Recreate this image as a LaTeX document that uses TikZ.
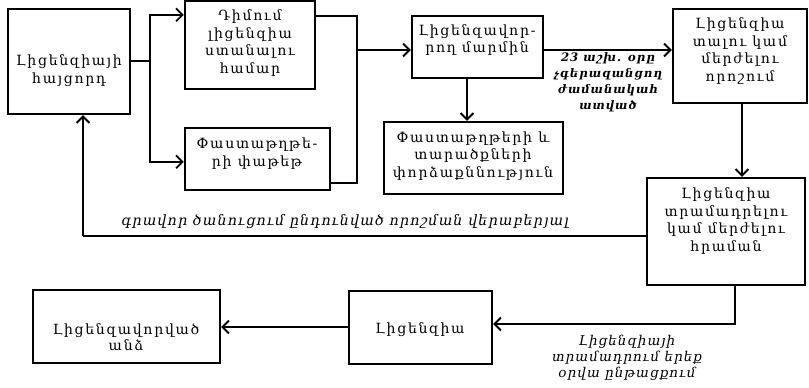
\documentclass[tikz,border=0pt]{standalone}
\usepackage{fontspec}
\setmainfont{DejaVu Serif}
\newfontfamily\boxfont{DejaVu Serif}[LetterSpace=12]
\newfontfamily\labfont{DejaVu Serif}[LetterSpace=8]
\usetikzlibrary{arrows.meta,fit,calc}
\begin{document}
\begin{tikzpicture}[x=0.03cm,y=-0.03cm,
  box/.style={draw, inner sep=0pt, line width=2pt},
  txt/.style={align=center, font=\boxfont\fontsize{12}{15.2}\selectfont, inner sep=0pt},
  lab/.style={align=center, font=\labfont\fontsize{11.5}{13.6}\selectfont\itshape, inner sep=0pt},
  arr/.style={line width=1.6pt, -{Straight Barb[length=5.5pt,width=11pt]}},
  ln/.style={line width=1.6pt}]
\useasboundingbox (0,0) rectangle (809,387);

% boxes
\node[box, fit={(8,9) (130,114)}] (A) {};
\node[txt] (At) at (69,71) {Լիցենզիայի\\հայցորդ};
\node[box, fit={(185,1) (315,89)}] (B) {};
\node[txt] (Bt) at (250,43) {Դիմում\\լիցենզիա\\ստանալու\\համար};
\node[box, fit={(185,128) (330,190)}] (C) {};
\node[txt] (Ct) at (257,154) {Փաստաթղթե-\\րի փաթեթ};
\node[box, fit={(412,16) (543,78)}] (D) {};
\node[txt] (Dt) at (477,40) {Լիցենզավոր-\\րող մարմին};
\node[box, fit={(384,122) (563,194)}] (E) {};
\node[txt] (Et) at (473,156) {Փաստաթղթերի և\\տարածքների\\փորձաքննություն};
\node[box, fit={(673,9) (807,103)}] (F) {};
\node[txt] (Ft) at (740,51) {Լիցենզիա\\տալու կամ\\մերժելու\\որոշում};
\node[box, fit={(647,178) (805,285)}] (G) {};
\node[txt] (Gt) at (726,221) {Լիցենզիա\\տրամադրելու\\կամ մերժելու\\հրաման};
\node[box, fit={(349,291) (492,364)}] (H) {};
\node[txt] (Ht) at (420,330) {Լիցենզիա};
\node[box, fit={(33,290) (220,363)}] (I) {};
\node[txt, font=\boxfont\fontsize{12}{14}\selectfont] (It) at (126,337) {Լիցենզավորված\\անձ};

% junctions
\coordinate (j1) at (150,61);
\coordinate (j2) at (357,50);
\coordinate (j3) at (357,183);
\coordinate (dex) at (467,0);
\coordinate (fbx) at (83,236);
\coordinate (ghx) at (735,0);

\draw[ln] (A.east |- j1) -- (j1);
\draw[arr] (j1) |- ($(B.north west)+(0,15)$);
\draw[arr] (j1) |- ($(C.north west)+(0,35)$);
\draw[ln] ($(B.north east)+(0,16)$) -| (j3) -- (C.east |- j3);
\draw[arr] (j2) -- (D.west |- j2);
\draw[arr] (D.south -| dex) -- (E.north -| dex);
\draw[arr] (D.east |- j2) -- (F.west |- j2);
\draw[arr] (F.south -| 742,0) -- (G.north -| 742,0);
\draw[ln] (G.west |- fbx) -- (fbx);
\draw[arr] (fbx) -- (A.south -| fbx);
\draw[arr] (G.south -| ghx) |- (H.east |- 0,324);
\draw[arr] (H.west |- 0,327) -- (I.east |- 0,327);

% labels
\node[lab, font=\labfont\fontsize{10}{13.6}\selectfont\bfseries\itshape] (L1) at (608,82) {23 աշխ. օրը\\չգերազանցող\\ժամանակահ\\ատված};
\node[lab, font=\labfont\fontsize{12.2}{13.6}\selectfont\itshape] (L2) at (345,222) {գրավոր ծանուցում ընդունված որոշման վերաբերյալ};
\node[lab] (L3) at (627,358) {Լիցենզիայի\\տրամադրում երեք\\օրվա ընթացքում};
\end{tikzpicture}
\end{document}
